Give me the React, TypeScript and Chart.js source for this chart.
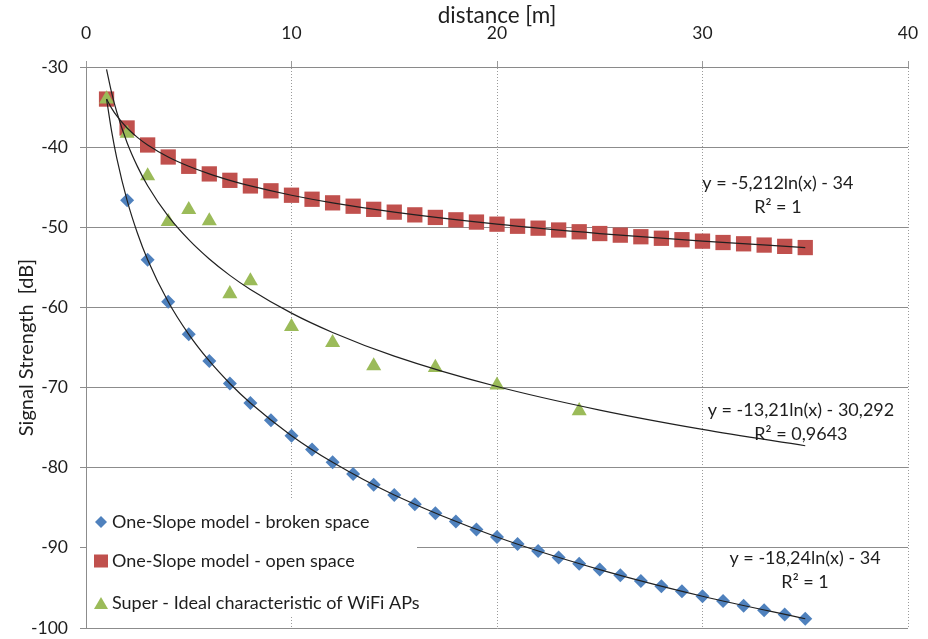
import React, { useEffect, useRef } from "react";
import { Chart, registerables } from "chart.js";

Chart.register(...registerables);

// ---------- data ----------
const distances = [1, 2, 3, 4, 5, 6, 7, 8, 9, 10, 11, 12, 13, 14, 15, 16, 17, 18, 19, 20, 21, 22, 23, 24, 25, 26, 27, 28, 29, 30, 31, 32, 33, 34, 35];
const brokenSpace = [-34.0, -46.64, -54.04, -59.29, -63.36, -66.68, -69.49, -71.93, -74.08, -76.0, -77.74, -79.32, -80.78, -82.14, -83.4, -84.57, -85.68, -86.72, -87.71, -88.64, -89.53, -90.38, -91.19, -91.97, -92.71, -93.43, -94.12, -94.78, -95.42, -96.04, -96.64, -97.21, -97.78, -98.32, -98.85];
const openSpace = [-34.0, -37.61, -39.73, -41.23, -42.39, -43.34, -44.14, -44.84, -45.45, -46.0, -46.5, -46.95, -47.37, -47.76, -48.11, -48.45, -48.77, -49.07, -49.35, -49.61, -49.87, -50.11, -50.34, -50.56, -50.78, -50.98, -51.18, -51.37, -51.55, -51.73, -51.9, -52.06, -52.22, -52.38, -52.53];
const idealDistances = [1, 2, 3, 4, 5, 6, 7, 8, 10, 12, 14, 17, 20, 24];
const idealValues = [-34.0, -38.3, -43.6, -49.3, -47.8, -49.2, -58.3, -56.7, -62.4, -64.4, -67.3, -67.5, -69.7, -72.9];

const trendDistances = [1, 1.25, 1.5, 2, 2.5, 3, 4, 5, 6, 7, 8, 10, 12, 15, 20, 25, 30, 35];
const trendBroken = [-34.0, -38.07, -41.4, -46.64, -50.71, -54.04, -59.29, -63.36, -66.68, -69.49, -71.93, -76.0, -79.32, -83.4, -88.64, -92.71, -96.04, -98.85];
const trendOpen = [-34.0, -35.16, -36.11, -37.61, -38.78, -39.73, -41.23, -42.39, -43.34, -44.14, -44.84, -46.0, -46.95, -48.11, -49.61, -50.78, -51.73, -52.53];
const trendIdeal = [-30.29, -33.24, -35.65, -39.45, -42.4, -44.81, -48.61, -51.55, -53.96, -56.0, -57.76, -60.71, -63.12, -66.07, -69.87, -72.81, -75.22, -77.26];

const seriesNames = [
  "One-Slope model - broken space",
  "One-Slope model - open space",
  "Super - Ideal characteristic of WiFi APs",
];
const equationLines = [
  ["y = -5,212ln(x) - 34", "R\u00B2 = 1"],
  ["y = -13,21ln(x) - 30,292", "R\u00B2 = 0,9643"],
  ["y = -18,24ln(x) - 34", "R\u00B2 = 1"],
];
// label anchors in data units (x, y)
const equationAnchors = [
  [33.67, -44.47],
  [34.79, -72.8],
  [34.99, -91.27],
];

const xTitle = "distance [m]";
const yTitle = "Signal Strength  [dB]";

const BLUE = "#4F81BD";
const RED = "#C0504D";
const GREEN = "#9BBB59";
const FONT = "Lato";
const TEXT = "#1e1e1e";

const pts = (xs: number[], ys: number[]) => xs.map((x, i) => ({ x, y: ys[i] }));

const legendPlugin = {
  id: "boxLegend",
  beforeDatasetsDraw(chart: any) {
    const { ctx, chartArea } = chart;
    const left = chartArea.left;
    const bottom = chartArea.bottom;
    ctx.save();
    ctx.fillStyle = "#ffffff";
    ctx.fillRect(left + 1, bottom - 130, 330, 119);
    const rows = [bottom - 106, bottom - 67, bottom - 25];
    const mx = left + 15;
    // diamond
    ctx.fillStyle = BLUE;
    ctx.beginPath();
    ctx.moveTo(mx, rows[0] - 6);
    ctx.lineTo(mx + 6, rows[0]);
    ctx.lineTo(mx, rows[0] + 6);
    ctx.lineTo(mx - 6, rows[0]);
    ctx.closePath();
    ctx.fill();
    // square
    ctx.fillStyle = RED;
    ctx.fillRect(mx - 7, rows[1] - 6.5, 14, 13);
    // triangle
    ctx.fillStyle = GREEN;
    ctx.beginPath();
    ctx.moveTo(mx, rows[2] - 6);
    ctx.lineTo(mx + 7, rows[2] + 6);
    ctx.lineTo(mx - 7, rows[2] + 6);
    ctx.closePath();
    ctx.fill();
    ctx.fillStyle = TEXT;
    ctx.font = `18px ${FONT}`;
    ctx.textAlign = "left";
    ctx.textBaseline = "middle";
    seriesNames.forEach((n, i) => ctx.fillText(n, left + 26, rows[i]));
    ctx.restore();
  },
};

const equationPlugin = {
  id: "equations",
  afterDatasetsDraw(chart: any) {
    const { ctx, scales } = chart;
    ctx.save();
    ctx.fillStyle = TEXT;
    ctx.font = `18px ${FONT}`;
    ctx.textAlign = "center";
    ctx.textBaseline = "middle";
    equationLines.forEach((lines, i) => {
      const px = scales.x.getPixelForValue(equationAnchors[i][0]);
      const py = scales.y.getPixelForValue(equationAnchors[i][1]);
      ctx.fillText(lines[0], px, py);
      ctx.fillText(lines[1], px, py + 24);
    });
    ctx.restore();
  },
};

export default function App() {
  const ref = useRef<HTMLCanvasElement | null>(null);

  useEffect(() => {
    if (!ref.current) return;
    Chart.defaults.font.family = FONT;
    Chart.defaults.color = TEXT;
    const trendStyle = {
      showLine: true,
      pointRadius: 0,
      pointHoverRadius: 0,
      borderColor: "#202020",
      borderWidth: 1.2,
      cubicInterpolationMode: "monotone" as const,
      fill: false,
    };
    const chart = new Chart(ref.current, {
      type: "scatter",
      data: {
        datasets: [
          { label: "trend broken", data: pts(trendDistances, trendBroken), order: 0, ...trendStyle },
          { label: "trend open", data: pts(trendDistances, trendOpen), order: 0, ...trendStyle },
          { label: "trend ideal", data: pts(trendDistances, trendIdeal), order: 0, ...trendStyle },
          {
            label: seriesNames[2],
            data: pts(idealDistances, idealValues),
            order: 1,
            pointStyle: "triangle",
            pointRadius: 8.7,
            backgroundColor: GREEN,
            borderColor: GREEN,
            borderWidth: 0,
          },
          {
            label: seriesNames[1],
            data: pts(distances, openSpace),
            order: 2,
            pointStyle: "rect",
            pointRadius: 10.8,
            backgroundColor: RED,
            borderColor: RED,
            borderWidth: 0,
          },
          {
            label: seriesNames[0],
            data: pts(distances, brokenSpace),
            order: 3,
            pointStyle: "rectRot",
            pointRadius: 7,
            backgroundColor: BLUE,
            borderColor: BLUE,
            borderWidth: 0,
          },
        ],
      },
      options: {
        animation: false,
        responsive: false,
        devicePixelRatio: 1,
        layout: { padding: { left: 0, top: 0, right: 20, bottom: 11 } },
        plugins: {
          legend: { display: false },
          tooltip: { enabled: false },
        },
        scales: {
          x: {
            type: "linear",
            position: "top",
            min: 0,
            max: 40,
            ticks: { stepSize: 10, padding: 17, font: { size: 17.5 }, color: TEXT },
            grid: { color: "#9a9a9a", lineWidth: 1, tickLength: 6, tickColor: "#9a9a9a", tickBorderDash: [] },
            border: { color: "#8a8a8a", width: 1, dash: [1, 2] },
            title: { display: true, text: xTitle, font: { size: 22.5 }, color: TEXT, padding: { top: 2, bottom: 0 } },
            afterFit(scale: any) {
              scale.height = 67;
              scale.paddingLeft = 0;
              scale.paddingRight = 0;
            },
          },
          y: {
            type: "linear",
            min: -100,
            max: -30,
            ticks: { stepSize: 10, padding: 12, font: { size: 17.5 }, color: TEXT },
            grid: { color: "#8c8c8c", lineWidth: 1, tickLength: 6 },
            border: { color: "#8c8c8c", width: 1 },
            title: { display: true, text: yTitle, font: { size: 20 }, color: TEXT, padding: { top: 15, bottom: 0 } },
            afterFit(scale: any) {
              scale.width = 86;
              scale.paddingTop = 0;
              scale.paddingBottom = 0;
            },
          },
        },
      },
      plugins: [legendPlugin, equationPlugin],
    } as any);
    return () => chart.destroy();
  }, []);

  return (
    <div style={{ position: "absolute", left: 0, top: 0, width: 928, height: 639, background: "#fff" }}>
      <canvas ref={ref} width={928} height={639} style={{ display: "block", width: 928, height: 639 }} />
    </div>
  );
}
